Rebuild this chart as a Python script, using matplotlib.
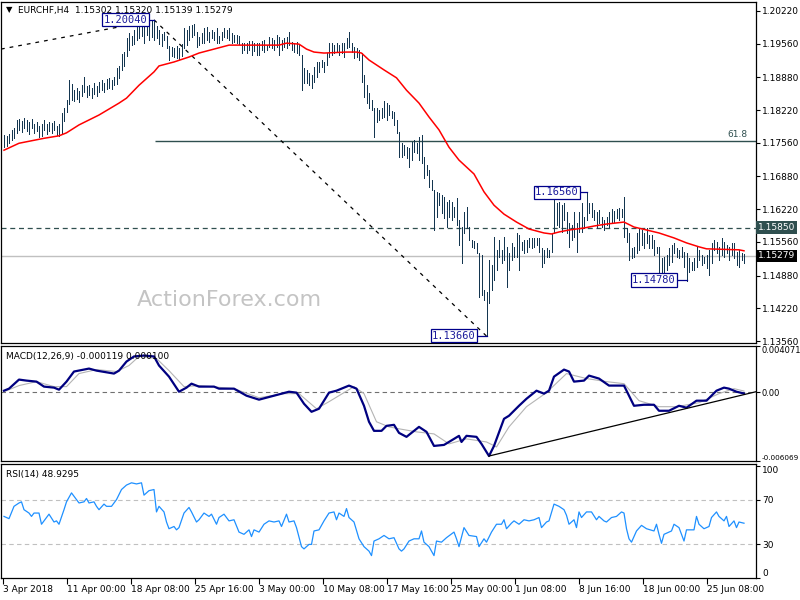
import numpy as np
import matplotlib
matplotlib.use("Agg")
import matplotlib.pyplot as plt
import matplotlib.transforms as mtrans

# EURCHF H4 bars, high/low in pips above 1.0000 (1772 -> 1.1772)
bar_high = [
    1772, 1770, 1774, 1782, 1786, 1802, 1804, 1800, 1806, 1802,
    1798, 1804, 1794, 1798, 1790, 1794, 1802, 1794, 1798, 1796,
    1800, 1790, 1794, 1816, 1826, 1842, 1883, 1874, 1862, 1866,
    1860, 1872, 1888, 1870, 1872, 1866, 1876, 1870, 1878, 1883,
    1876, 1885, 1887, 1883, 1889, 1907, 1911, 1935, 1939, 1967,
    1977, 1971, 1983, 1990, 2000, 1996, 1996, 2000, 1996, 2002,
    2004, 1992, 1983, 1975, 1979, 1971, 1951, 1949, 1947, 1951,
    1947, 1955, 1988, 1983, 1992, 1994, 1996, 1979, 1969, 1977,
    1988, 1990, 1979, 1983, 1979, 1988, 1971, 1979, 1988, 1983,
    1988, 1977, 1973, 1973, 1971, 1957, 1957, 1957, 1961, 1961,
    1957, 1957, 1957, 1961, 1963, 1953, 1969, 1967, 1963, 1973,
    1969, 1963, 1967, 1969, 1979, 1959, 1957, 1959, 1953, 1933,
    1907, 1903, 1897, 1893, 1909, 1919, 1919, 1923, 1919, 1937,
    1957, 1957, 1953, 1957, 1953, 1957, 1957, 1967, 1979, 1957,
    1949, 1947, 1943, 1937, 1893, 1873, 1856, 1842, 1826, 1826,
    1822, 1826, 1840, 1836, 1832, 1820, 1818, 1802, 1778, 1755,
    1751, 1747, 1745, 1757, 1761, 1755, 1768, 1772, 1727, 1711,
    1701, 1681, 1661, 1657, 1655, 1650, 1646, 1636, 1640, 1636,
    1626, 1644, 1600, 1586, 1616, 1626, 1586, 1560, 1558, 1554,
    1533, 1529, 1459, 1455, 1519, 1509, 1566, 1540, 1560, 1540,
    1566, 1546, 1533, 1554, 1546, 1574, 1570, 1556, 1560, 1560,
    1564, 1564, 1564, 1564, 1564, 1544, 1540, 1544, 1540, 1574,
    1640, 1634, 1636, 1630, 1634, 1616, 1594, 1590, 1616, 1594,
    1616, 1634, 1606, 1656, 1634, 1634, 1620, 1616, 1620, 1606,
    1600, 1606, 1616, 1622, 1618, 1622, 1624, 1622, 1646, 1584,
    1574, 1544, 1546, 1574, 1584, 1580, 1574, 1584, 1570, 1570,
    1560, 1546, 1546, 1523, 1525, 1529, 1544, 1550, 1554, 1544,
    1540, 1546, 1535, 1533, 1523, 1515, 1523, 1546, 1540, 1529,
    1525, 1529, 1540, 1554, 1560, 1556, 1546, 1564, 1556, 1550,
    1546, 1554, 1554, 1535, 1540, 1533, 1532,
]
bar_low = [
    1748, 1750, 1756, 1762, 1766, 1776, 1782, 1778, 1786, 1780,
    1774, 1786, 1776, 1780, 1768, 1770, 1782, 1774, 1780, 1776,
    1782, 1772, 1770, 1776, 1800, 1818, 1834, 1842, 1840, 1844,
    1838, 1850, 1858, 1848, 1852, 1846, 1854, 1850, 1858, 1862,
    1858, 1864, 1866, 1864, 1872, 1874, 1887, 1903, 1911, 1931,
    1943, 1953, 1955, 1963, 1967, 1971, 1957, 1973, 1963, 1969,
    1963, 1967, 1955, 1951, 1963, 1947, 1923, 1931, 1929, 1927,
    1925, 1931, 1947, 1953, 1963, 1970, 1973, 1949, 1953, 1957,
    1957, 1963, 1959, 1967, 1963, 1957, 1957, 1963, 1969, 1967,
    1963, 1957, 1959, 1957, 1955, 1937, 1943, 1937, 1943, 1933,
    1941, 1933, 1933, 1943, 1939, 1943, 1949, 1947, 1943, 1949,
    1933, 1943, 1949, 1947, 1953, 1943, 1939, 1937, 1933, 1862,
    1877, 1877, 1873, 1866, 1879, 1889, 1899, 1909, 1899, 1913,
    1929, 1933, 1937, 1939, 1933, 1937, 1929, 1947, 1949, 1939,
    1927, 1929, 1923, 1879, 1848, 1836, 1826, 1822, 1767, 1798,
    1802, 1806, 1808, 1802, 1812, 1806, 1792, 1776, 1727, 1727,
    1731, 1725, 1707, 1721, 1737, 1735, 1721, 1715, 1685, 1691,
    1667, 1661, 1580, 1606, 1630, 1614, 1604, 1586, 1606, 1600,
    1606, 1590, 1550, 1513, 1574, 1584, 1560, 1546, 1544, 1533,
    1445, 1449, 1439, 1366, 1433, 1459, 1479, 1499, 1525, 1513,
    1519, 1465, 1499, 1519, 1525, 1525, 1499, 1540, 1533, 1535,
    1546, 1544, 1546, 1550, 1535, 1505, 1513, 1525, 1525, 1535,
    1574, 1590, 1586, 1576, 1600, 1574, 1546, 1560, 1566, 1535,
    1576, 1576, 1584, 1600, 1614, 1606, 1600, 1584, 1594, 1586,
    1580, 1590, 1586, 1594, 1596, 1604, 1600, 1606, 1566, 1556,
    1519, 1523, 1525, 1533, 1540, 1550, 1544, 1554, 1544, 1544,
    1529, 1533, 1485, 1493, 1485, 1499, 1509, 1515, 1533, 1525,
    1523, 1525, 1505, 1478, 1495, 1499, 1499, 1505, 1519, 1509,
    1513, 1503, 1489, 1513, 1540, 1533, 1519, 1529, 1525, 1533,
    1519, 1529, 1523, 1509, 1505, 1519, 1514,
]

# red moving average, read at bar positions (pips)
ma_idx = [0, 6, 16, 22, 25, 30, 38, 46, 49, 54, 60, 62, 68, 74, 78, 84, 90, 97,
          110, 113, 118, 121, 124, 128, 137, 141, 143, 146, 152, 157, 161, 166,
          170, 174, 178, 182, 188, 192, 196, 200, 205, 210, 216, 219, 222,
          226, 232, 236, 241, 248, 252, 257, 262, 268, 273, 278, 281, 294, 296]
ma_val = [1741, 1755, 1765, 1770, 1776, 1792, 1812, 1836, 1846, 1872, 1899, 1911,
          1919, 1929, 1937, 1945, 1953, 1953, 1953, 1957, 1955, 1945, 1939, 1937,
          1939, 1939, 1937, 1923, 1903, 1887, 1862, 1836, 1808, 1782, 1747, 1721,
          1693, 1657, 1630, 1612, 1596, 1582, 1574, 1572, 1576, 1580, 1584,
          1588, 1592, 1596, 1586, 1580, 1574, 1564, 1554, 1546, 1542, 1540, 1538]

# MACD main and signal (units of 0.0001)
macd_idx = [0, 2, 6, 9, 13, 16, 20, 22, 25, 28, 34, 37, 44, 46, 49, 52, 56, 60,
            62, 66, 70, 73, 75, 78, 84, 86, 92, 97, 102, 108, 114, 117, 120, 123,
            126, 130, 133, 138, 141, 144, 146, 148, 151, 153, 156, 158, 161, 166,
            169, 172, 176, 180, 182, 183, 185, 189, 191, 194, 196, 200, 202, 206,
            209, 213, 216, 218, 220, 224, 226, 228, 232, 234, 238, 242, 247, 248,
            252, 256, 260, 262, 266, 270, 273, 277, 281, 285, 288, 290, 293, 296]
macd_val = [1.3, 3.1, 11.1, 10.2, 9.3, 4.9, 4.0, 2.2, 9.3, 18.2, 20.8, 19.0, 16.4,
            19.0, 27.0, 31.5, 32.3, 31.5, 23.5, 13.7, 0.4, 4.0, 7.5, 4.9, 4.9, 3.1,
            3.1, -3.1, -6.6, -3.1, 0.4, -0.4, -10.2, -17.3, -14.6, -0.4, 1.3, 5.8,
            3.1, -12.0, -26.1, -34.1, -34.1, -29.7, -28.8, -35.9, -39.4, -30.6,
            -35.0, -47.4, -46.5, -41.2, -38.5, -43.9, -38.5, -39.4, -45.6, -56.3,
            -47.4, -23.5, -20.8, -12.0, -5.8, 1.3, -1.3, 1.3, 13.7, 19.9, 18.2,
            9.3, 10.2, 14.6, 12.0, 5.8, 5.8, 5.8, -12.0, -11.1, -11.1, -16.4,
            -16.4, -12.0, -13.7, -7.5, -7.5, 1.3, 4.0, 3.1, 0.4, -1.19]
sig_idx = [0, 6, 13, 20, 25, 30, 37, 45, 50, 54, 61, 66, 72, 78, 92, 102, 112,
           118, 125, 130, 140, 144, 149, 154, 158, 165, 172, 178, 185, 193, 197,
           202, 209, 217, 225, 233, 241, 248, 254, 262, 269, 278, 286, 292, 296]
sig_val = [0.4, 5.8, 9.3, 4.9, 4.9, 16.4, 19.9, 18.2, 23.5, 31.5, 29.7, 19.0, 4.9,
           5.8, 3.1, -4.9, -1.3, -1.3, -14.6, -8.4, 4.9, -1.3, -26.1, -30.6, -32.3,
           -35.0, -36.8, -45.6, -41.2, -43.9, -48.3, -30.6, -12.8, -0.4, 16.4,
           12.0, 9.3, 7.5, -7.5, -12.8, -12.8, -9.3, -1.3, 3.1, 1.0]
trend_idx = [194, 300.8]
trend_val = [-56.3, 0.4]

# RSI(14)
rsi_idx = [0, 2, 4, 6, 7, 8, 10, 11, 12, 14, 15, 16, 18, 20, 21, 22, 24, 25, 27,
           28, 30, 32, 33, 34, 36, 37, 38, 40, 41, 43, 45, 47, 49, 51, 53, 55, 56,
           58, 60, 61, 62, 64, 65, 66, 68, 69, 70, 72, 74, 75, 77, 78, 80, 82, 83,
           85, 86, 88, 90, 92, 94, 96, 98, 99, 100, 102, 104, 106, 108, 110, 111,
           113, 114, 116, 117, 119, 120, 122, 123, 124, 126, 128, 130, 132, 133,
           134, 136, 137, 138, 140, 142, 144, 146, 147, 148, 150, 152, 154, 156,
           158, 159, 160, 162, 164, 166, 167, 168, 170, 172, 173, 175, 177, 180,
           181, 182, 184, 186, 189, 190, 192, 193, 195, 197, 199, 200, 201, 203,
           204, 206, 208, 210, 212, 214, 215, 217, 218, 220, 222, 224, 225, 226,
           228, 229, 230, 231, 233, 235, 237, 238, 240, 241, 243, 245, 247, 248,
           249, 250, 251, 253, 255, 257, 260, 261, 262, 263, 264, 267, 268, 270,
           272, 273, 276, 277, 278, 280, 282, 283, 285, 286, 288, 289, 290, 292,
           293, 294, 296]
rsi_val = [55, 53, 64, 67, 68, 61, 58, 55, 58, 58, 48, 51, 57, 50, 51, 48, 61, 68,
           76, 73, 67, 68, 71, 67, 68, 64, 61, 66, 64, 64, 70, 79, 83, 85, 84, 85,
           74, 78, 79, 59, 64, 59, 50, 44, 46, 43, 45, 58, 63, 59, 50, 52, 58, 55,
           57, 48, 54, 57, 51, 52, 41, 39, 43, 37, 43, 41, 48, 51, 50, 51, 46, 57,
           50, 51, 45, 28, 26, 30, 30, 42, 43, 51, 58, 59, 52, 58, 55, 62, 54, 50,
           35, 28, 24, 20, 33, 35, 38, 35, 36, 26, 24, 26, 33, 35, 35, 42, 32, 28,
           20, 33, 32, 36, 41, 35, 28, 45, 38, 37, 28, 35, 32, 41, 48, 48, 52, 44,
           49, 51, 48, 52, 51, 52, 54, 45, 50, 51, 66, 64, 61, 56, 48, 52, 45, 59,
           54, 59, 59, 52, 55, 51, 50, 54, 55, 59, 58, 44, 35, 32, 42, 47, 44, 42,
           48, 39, 31, 39, 42, 48, 45, 33, 43, 43, 55, 48, 44, 46, 54, 59, 55, 51,
           55, 46, 51, 45, 50, 48.93]

time_labels = ['3 Apr 2018', '11 Apr 00:00', '18 Apr 08:00', '25 Apr 16:00',
               '3 May 00:00', '10 May 08:00', '17 May 16:00', '25 May 00:00',
               '1 Jun 08:00', '8 Jun 16:00', '18 Jun 00:00', '25 Jun 08:00']
price_ticks = [1.2022, 1.1956, 1.1888, 1.1822, 1.1756, 1.1688, 1.1622,
               1.1556, 1.1488, 1.1422, 1.1356]
last_ohlc = ['1.15302', '1.15320', '1.15139', '1.15279']
last_close = 1.15279
resistance = 1.1585
fib_618 = 1.1760
swing_high = (60, 1.2004)
swing_low = (193, 1.1366)
labels_pts = [(48.6, 1.2004, 60, '1.20040'), (180.0, 1.1367, 193, '1.13660'),
              (221.2, 1.1656, 233, '1.16560'), (260.0, 1.1479, 273, '1.14780')]

hi = 1 + np.array(bar_high) / 1e4
lo = 1 + np.array(bar_low) / 1e4
xs = np.arange(len(hi))

BAR = '#143650'
FS = 6.5

fig = plt.figure(figsize=(8, 6), dpi=100)


def panel(top, bottom):
    ax = fig.add_axes([1 / 800, 1 - bottom / 600, 755 / 800, (bottom - top) / 600])
    ax.set_xlim(-1.2, 300.8)
    ax.yaxis.tick_right()
    ax.tick_params(axis='y', direction='out', length=3, width=0.8, labelsize=FS, pad=1.5)
    ax.tick_params(axis='x', bottom=False, labelbottom=False)
    for s in ax.spines.values():
        s.set_linewidth(0.9)
    return ax


ax1 = panel(2, 343)
ax2 = panel(346, 461)
ax3 = panel(464, 578)

# ---- main price panel
ax1.set_ylim(1.1352, 1.2040)
ax1.axhline(last_close, color='#c0c0c0', lw=1, zorder=1)
ax1.axhline(resistance, color='#2f4f4f', lw=0.9, ls=(0, (4, 3)), zorder=1)
ax1.hlines(fib_618, 60.4, 300.8, color='#2f4f4f', lw=1, zorder=1)
ax1.text(297.5, fib_618 + 0.0003, '61.8', color='#2f4f4f', fontsize=FS,
         ha='right', va='bottom')
ax1.plot([-1.2, 58], [1.1945, 1.2001], color='black', lw=0.9, ls=(0, (3, 4)), zorder=2)
ax1.plot([swing_high[0], swing_low[0]], [swing_high[1], swing_low[1]],
         color='black', lw=0.9, ls=(0, (3, 4)), zorder=2)
ax1.vlines(xs, lo, hi, color=BAR, lw=0.7, antialiased=False, zorder=3)
ax1.plot(ma_idx, 1 + np.array(ma_val) / 1e4, color='red', lw=1.1, zorder=4)

for cx, py, bx, txt in labels_pts:
    edge = cx + 8.4
    ax1.plot([edge, bx], [py, py], color='#00008b', lw=0.9, zorder=5)
    ax1.text(cx, py, txt, ha='center', va='center', fontsize=7.5,
             family='DejaVu Sans Mono', color='#1c1c9c', zorder=6,
             bbox=dict(boxstyle='square,pad=0.15', fc='white', ec='#00008b', lw=0.9))

ax1.set_yticks(price_ticks)
ax1.set_yticklabels(['%.5f' % v for v in price_ticks])
blend1 = mtrans.blended_transform_factory(ax1.transAxes, ax1.transData)
ax1.text(1.003, resistance, '1.15850', transform=blend1, color='white', fontsize=FS,
         va='center', ha='left', clip_on=False,
         bbox=dict(boxstyle='square,pad=0.2', fc='#2f4f4f', ec='none'))
ax1.text(1.003, last_close, '1.15279', transform=blend1, color='white', fontsize=FS,
         va='center', ha='left', clip_on=False,
         bbox=dict(boxstyle='square,pad=0.2', fc='black', ec='none'))

fig.text(229 / 800, 1 - 300 / 600, 'ActionForex.com', color='#c4c4c4',
         fontsize=16, ha='center', va='center')
fig.text(6 / 800, 1 - 10 / 600, '\u25bc', fontsize=6, va='center', ha='left')
fig.text(18 / 800, 1 - 10 / 600, 'EURCHF,H4  ' + ' '.join(last_ohlc),
         fontsize=FS, va='center', ha='left')

# ---- MACD panel
ax2.set_ylim(-0.006069, 0.004071)
ax2.axhline(0, color='#707070', lw=0.8, ls=(0, (4, 3)))
ax2.plot(sig_idx, np.array(sig_val) * 1e-4, color='#b4b4b4', lw=0.8)
ax2.plot(macd_idx, np.array(macd_val) * 1e-4, color='#000080', lw=1.6)
ax2.plot(trend_idx, np.array(trend_val) * 1e-4, color='black', lw=0.9)
ax2.set_yticks([0.004071, 0.0, -0.006069])
ax2.set_yticklabels(['0.004071', '0.00', '-0.006069'])
ax2.tick_params(axis='y', labelsize=6, pad=1)
tl = ax2.get_yticklabels()
tl[0].set_va('top')
tl[2].set_va('bottom')
tl[2].set_fontsize(5.2)
ax2.text(0.006, 0.95, 'MACD(12,26,9) -0.000119 0.000100', transform=ax2.transAxes,
         fontsize=FS, va='top', ha='left')

# ---- RSI panel
ax3.set_ylim(0, 101.8)
for lv in (70, 30):
    ax3.axhline(lv, color='#c0c0c0', lw=0.8, ls=(0, (4, 3)))
ax3.plot(rsi_idx, rsi_val, color='#1e90ff', lw=0.9)
ax3.set_yticks([100, 70, 30, 0])
ax3.set_yticklabels(['100', '70', '30', '0'])
tl = ax3.get_yticklabels()
tl[0].set_va('top')
tl[3].set_va('bottom')
ax3.text(0.006, 0.95, 'RSI(14) 48.9295', transform=ax3.transAxes,
         fontsize=FS, va='top', ha='left')

ax3.tick_params(axis='x', bottom=True, labelbottom=True, direction='out',
                length=4, width=0.8, labelsize=FS, pad=1)
ax3.set_xticks(np.arange(len(time_labels)) * 25.6 - 0.4)
ax3.set_xticklabels(time_labels, ha='left')

fig.savefig('out.png', dpi=100)
